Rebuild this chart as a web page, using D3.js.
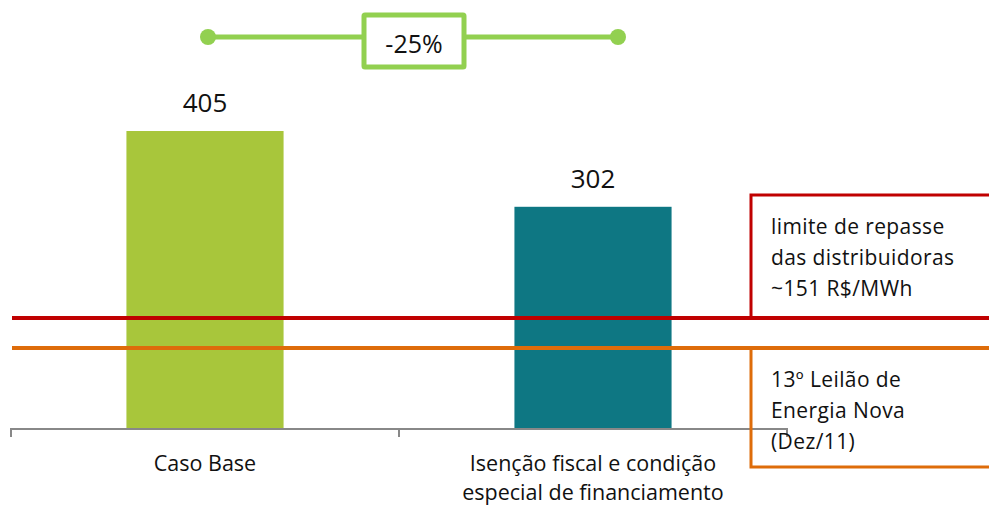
<!DOCTYPE html>
<html>
<head>
<meta charset="utf-8">
<script src="https://cdn.jsdelivr.net/npm/d3@7"></script>
<style>
  html, body { margin: 0; padding: 0; background: #fff; }
  svg text { font-family: "Open Sans", Lato, sans-serif; fill: #111; }
</style>
</head>
<body>
<div id="chart"></div>
<script>
'use strict';

// Data
const categories = ["Caso Base", "Isenção fiscal e condição\nespecial de financiamento"];
const values = [405, 302];
const barColors = ["#a8c63b", "#0e7783"];

const refValues = [151, 110];
const refColors = ["#c00000", "#de6c0a"];
const refLabels = [
    ["limite de repasse", "das distribuidoras", "~151 R$/MWh"],
    ["13º Leilão de", "Energia Nova", "(Dez/11)"]
];

const changeLabel = "-25%";

const width = 989, height = 506;

const svg = d3.select("#chart").append("svg")
    .attr("width", width)
    .attr("height", height);

// Scales
const xScale = d3.scaleBand()
    .domain(categories)
    .range([11, 787])
    .padding(0);

const yScale = d3.scaleLinear()
    .domain([0, 405])
    .range([429, 131]);

const barWidth = xScale.bandwidth() * 0.405;

// Bars
svg.append("g").selectAll("rect")
    .data(values)
    .join("rect")
    .attr("x", (d, i) => xScale(categories[i]) + xScale.bandwidth() / 2 - barWidth / 2)
    .attr("y", d => yScale(d))
    .attr("width", barWidth)
    .attr("height", d => yScale(0) - yScale(d))
    .attr("fill", (d, i) => barColors[i]);

// Value labels
svg.append("g").selectAll("text")
    .data(values)
    .join("text")
    .attr("x", (d, i) => xScale(categories[i]) + xScale.bandwidth() / 2)
    .attr("y", d => yScale(d) - 19)
    .attr("text-anchor", "middle")
    .attr("font-size", 26)
    .text(d => d);

// X axis
const axisX = svg.append("g")
    .attr("transform", `translate(0,${yScale(0)})`)
    .call(d3.axisBottom(xScale).tickSize(0).tickFormat(""));

axisX.select(".domain")
    .attr("d", `M11,8V0H787V8`)
    .attr("stroke", "#888")
    .attr("stroke-width", 2);

// middle tick between the categories
axisX.append("line")
    .attr("x1", xScale(categories[1]))
    .attr("x2", xScale(categories[1]))
    .attr("y1", 0)
    .attr("y2", 8)
    .attr("stroke", "#888")
    .attr("stroke-width", 2);

// Category labels, one text per line
const catLines = categories.flatMap(c =>
    c.split("\n").map((line, j) => ({ cat: c, line, j })));

svg.append("g").selectAll("text")
    .data(catLines)
    .join("text")
    .attr("x", d => xScale(d.cat) + xScale.bandwidth() / 2)
    .attr("y", d => yScale(0) + 42 + d.j * 29)
    .attr("text-anchor", "middle")
    .attr("font-size", 21.5)
    .text(d => d.line);

// Reference lines
svg.append("g").selectAll("line")
    .data(refValues)
    .join("line")
    .attr("x1", 12)
    .attr("x2", width)
    .attr("y1", d => yScale(d))
    .attr("y2", d => yScale(d))
    .attr("stroke", (d, i) => refColors[i])
    .attr("stroke-width", 4);

// Reference boxes with labels
const boxLeft = 751;
const boxes = [
    { top: 195, bottom: yScale(refValues[0]) },
    { top: yScale(refValues[1]), bottom: 467 }
];

boxes.forEach((b, i) => {
    svg.append("path")
        .attr("d", `M${width + 5},${b.top}H${boxLeft}V${b.bottom}H${width + 5}`)
        .attr("fill", "none")
        .attr("stroke", refColors[i])
        .attr("stroke-width", 3);

    svg.append("g").selectAll("text")
        .data(refLabels[i])
        .join("text")
        .attr("x", 771)
        .attr("y", (d, j) => b.top + 39 + j * 31)
        .attr("font-size", 21)
        .attr("letter-spacing", 0.4)
        .text(d => d);
});

// Change bracket at the top
const bracketY = 37;
const bx1 = 208, bx2 = 618;
const bracket = svg.append("g");

bracket.append("line")
    .attr("x1", bx1).attr("x2", bx2)
    .attr("y1", bracketY).attr("y2", bracketY)
    .attr("stroke", "#92d050")
    .attr("stroke-width", 5);

bracket.selectAll("circle")
    .data([bx1, bx2])
    .join("circle")
    .attr("cx", d => d)
    .attr("cy", bracketY)
    .attr("r", 8)
    .attr("fill", "#92d050");

bracket.append("rect")
    .attr("x", 364).attr("y", 15)
    .attr("width", 100).attr("height", 52)
    .attr("rx", 1)
    .attr("fill", "#fff")
    .attr("stroke", "#92d050")
    .attr("stroke-width", 5);

bracket.append("text")
    .attr("x", 414)
    .attr("y", 53)
    .attr("text-anchor", "middle")
    .attr("font-size", 25)
    .text(changeLabel);
</script>
</body>
</html>
